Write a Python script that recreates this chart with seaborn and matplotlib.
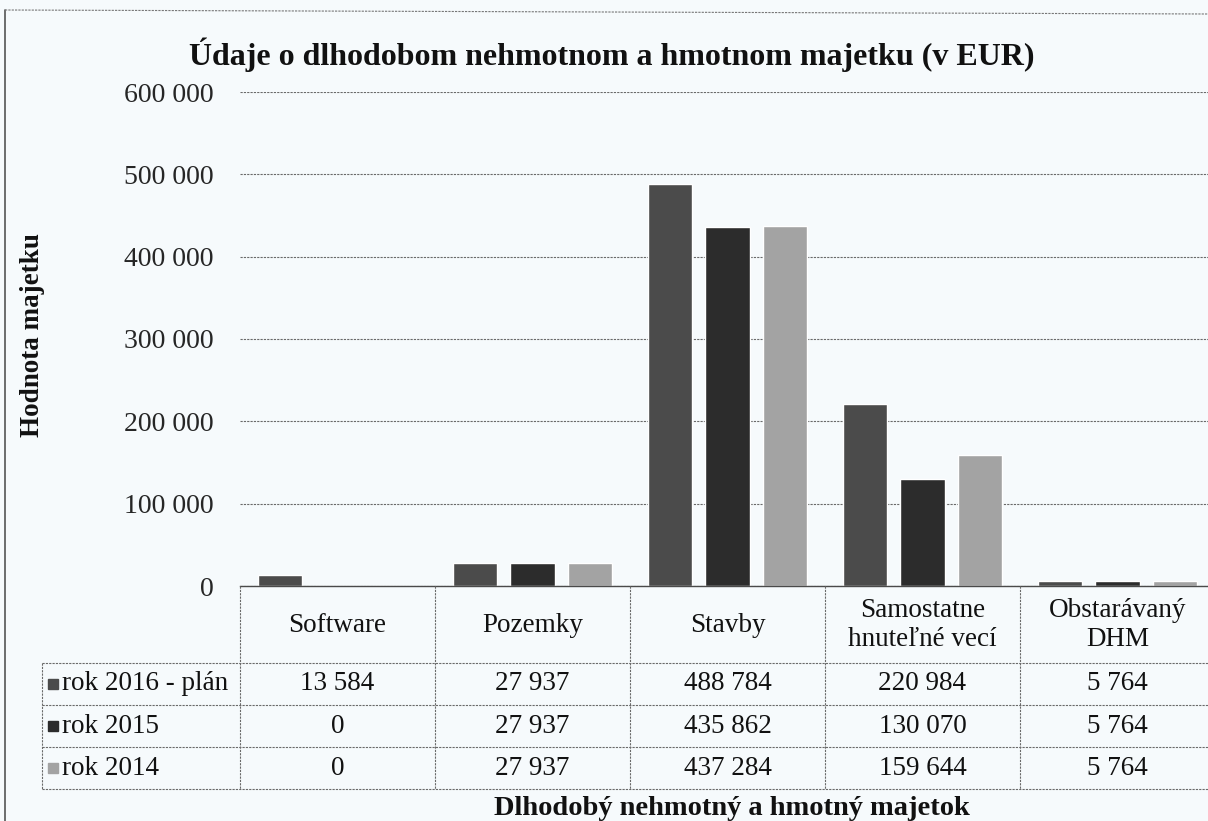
import matplotlib
matplotlib.use("Agg")
import matplotlib.pyplot as plt
import matplotlib.transforms as mtransforms
from matplotlib.lines import Line2D
from matplotlib.patches import Rectangle
import pandas as pd
import seaborn as sns

# ---- data ----
categories = ["Software", "Pozemky", "Stavby", "Samostatne\nhnuteľné vecí", "Obstarávaný\nDHM"]
series = ["rok 2016 - plán", "rok 2015", "rok 2014"]
rok_2016 = [13584, 27937, 488784, 220984, 5764]
rok_2015 = [0, 27937, 435862, 130070, 5764]
rok_2014 = [0, 27937, 437284, 159644, 5764]
y_ticks = [0, 100000, 200000, 300000, 400000, 500000, 600000]

colors = ["#4b4b4b", "#2c2c2c", "#a3a3a3"]
bg = "#f6fafc"

values = [rok_2016, rok_2015, rok_2014]
df = pd.DataFrame({
    "kategoria": categories * len(series),
    "rok": [s for s in series for _ in categories],
    "hodnota": [v for vals in values for v in vals],
})


def fmt(v):
    return f"{v:,}".replace(",", " ")


sns.set_style("white")
plt.rcParams["font.family"] = ["Liberation Serif", "DejaVu Serif"]

W, H = 1208, 821
fig = plt.figure(figsize=(W / 100, H / 100), dpi=100, facecolor=bg)


def fx(px):
    return px / W


def fy(py):
    return 1 - py / H


ax = fig.add_axes([fx(240), fy(586), fx(975), (586 - 92) / H])
ax.set_facecolor(bg)

sns.barplot(data=df, x="kategoria", y="hodnota", hue="rok", order=categories,
            hue_order=series, palette=colors, width=0.885, gap=0.22,
            legend=False, saturation=1, ax=ax)

ax.set_ylim(0, 600000)
ax.set_xlim(-0.5, len(categories) - 0.5)
ax.set_yticks(y_ticks)
ax.set_yticklabels([fmt(t) for t in y_ticks], fontsize=20)
ax.tick_params(axis="y", length=0, pad=19)
ax.tick_params(axis="x", length=0, labelbottom=False)
ax.set_xlabel("")
ax.set_ylabel("")
ax.yaxis.grid(True, color="#6a6a6a", linestyle=(0, (2, 1)), linewidth=0.8)
ax.set_axisbelow(True)
for s in ["left", "right", "top"]:
    ax.spines[s].set_visible(False)
ax.spines["bottom"].set_color("#4a4a4a")
ax.spines["bottom"].set_linewidth(1.0)

# ---- data table under the plot ----
line_kw = dict(color="#6a6a6a", linewidth=0.8, linestyle=(0, (2, 1)))
blend = mtransforms.blended_transform_factory(ax.transData, fig.transFigure)

row_lines = [663, 705, 747, 789]
for yl in row_lines:
    fig.add_artist(Line2D([fx(42), 1], [fy(yl), fy(yl)], transform=fig.transFigure, **line_kw))
for i in range(len(categories) + 1):
    xb = i - 0.5
    fig.add_artist(Line2D([xb, xb], [fy(586), fy(789)], transform=blend, **line_kw))
fig.add_artist(Line2D([fx(42), fx(42)], [fy(663), fy(789)], transform=fig.transFigure, **line_kw))

for i, cat in enumerate(categories):
    fig.text(i, fy(625), cat, transform=blend, ha="center", va="center",
             fontsize=19.5, linespacing=1.25, color="#111111")

row_centers = [684, 726, 768]
for r, (name, vals) in enumerate(zip(series, values)):
    yc = row_centers[r]
    fig.patches.append(Rectangle((fx(48), fy(yc + 5)), fx(10), 10 / H,
                                 transform=fig.transFigure, color=colors[r]))
    fig.text(fx(62), fy(yc), name, ha="left", va="center", fontsize=19.5, color="#111111")
    for i, v in enumerate(vals):
        fig.text(i, fy(yc), fmt(v), transform=blend, ha="center", va="center",
                 fontsize=19.5, color="#111111")

# ---- titles ----
fig.text(fx(612), fy(55), "Údaje o dlhodobom nehmotnom a hmotnom majetku (v EUR)",
         ha="center", va="center", fontsize=23, fontweight="bold", color="#111111")
fig.text(fx(33), fy(335), "Hodnota majetku", rotation=90, ha="center", va="center",
         fontsize=19.5, fontweight="bold", color="#111111")
fig.text(fx(732), fy(808), "Dlhodobý nehmotný a hmotný majetok",
         ha="center", va="center", fontsize=20.5, fontweight="bold", color="#111111")

# scan frame
fig.add_artist(Line2D([fx(5), fx(5)], [fy(10), 0], transform=fig.transFigure,
                      color="#555555", linewidth=1.2))
fig.add_artist(Line2D([fx(5), 1], [fy(10), fy(14)], transform=fig.transFigure,
                      color="#777777", linewidth=0.8, linestyle=(0, (2, 1))))

fig.savefig("out.png", dpi=100, facecolor=bg)
